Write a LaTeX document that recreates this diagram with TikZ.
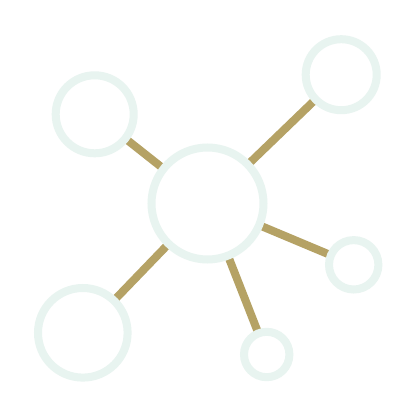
\documentclass[tikz,border=0pt]{standalone}
\usetikzlibrary{backgrounds}
\definecolor{mint}{HTML}{E8F4F0}
\definecolor{olive}{HTML}{B5A265}
\begin{document}
\begin{tikzpicture}[x=1pt,y=-1pt,
  hub/.style={circle,draw=mint,fill=white,line width=8pt,inner sep=0pt,minimum size=#1},
  link/.style={draw=olive,line width=8pt}]
\useasboundingbox (0,0) rectangle (417,417);
\node[hub=112pt] (c) at (207.5,203.5) {};
\node[hub=78pt] (tl) at (94.7,114.3) {};
\node[hub=71pt] (tr) at (341.2,74.7) {};
\node[hub=89.6pt] (bl) at (82.8,332.8) {};
\node[hub=45.4pt] (b) at (266.7,354.5) {};
\node[hub=49.4pt] (r) at (353.7,264.8) {};
\begin{scope}[on background layer]
\fill[white] (0,0) rectangle (417,417);
\draw[link] (c.center) -- (tl.center);
\draw[link] (c.center) -- (tr.center);
\draw[link] (c.center) -- (bl.center);
\draw[link] (c.center) -- (b.center);
\draw[link] (c.center) -- (r.center);
\end{scope}
\end{tikzpicture}
\end{document}
